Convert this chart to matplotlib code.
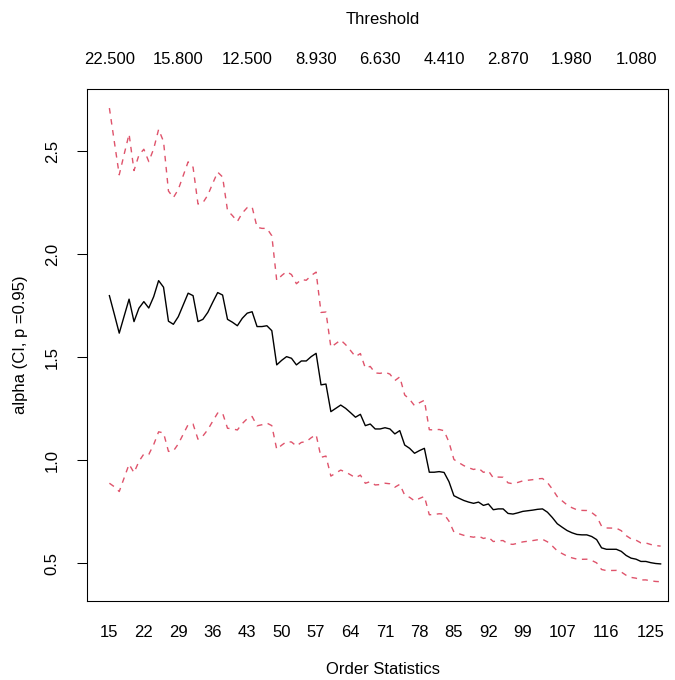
# Hill plot: alpha estimate against order statistics, with 95% CI bands

import numpy as np
import matplotlib.pyplot as plt

plt.rcParams['font.family'] = ['Liberation Sans', 'DejaVu Sans']
plt.rcParams['font.size'] = 12

# order statistics k = 15 .. 127 and the alpha estimate
order_stats = np.arange(15, 128)
alpha_hat = [
    1.799, 1.709, 1.617, 1.700, 1.782, 1.673, 1.738, 1.770, 1.739, 1.794,  # 15-24
    1.872, 1.840, 1.675, 1.660, 1.697, 1.754, 1.811, 1.799, 1.673, 1.684,  # 25-34
    1.718, 1.767, 1.814, 1.802, 1.684, 1.670, 1.653, 1.689, 1.714, 1.721,  # 35-44
    1.649, 1.649, 1.653, 1.629, 1.463, 1.485, 1.503, 1.495, 1.463, 1.482,  # 45-54
    1.482, 1.503, 1.519, 1.366, 1.370, 1.236, 1.252, 1.268, 1.252, 1.231,  # 55-64
    1.209, 1.223, 1.168, 1.176, 1.152, 1.152, 1.158, 1.152, 1.128, 1.144,  # 65-74
    1.074, 1.058, 1.034, 1.047, 1.058, 0.942, 0.942, 0.945, 0.941, 0.896,  # 75-84
    0.828, 0.816, 0.805, 0.797, 0.791, 0.797, 0.781, 0.788, 0.760, 0.764,  # 85-94
    0.764, 0.742, 0.739, 0.745, 0.752, 0.755, 0.758, 0.762, 0.764, 0.748,  # 95-104
    0.722, 0.692, 0.675, 0.659, 0.648, 0.640, 0.638, 0.638, 0.630, 0.615,  # 105-114
    0.575, 0.568, 0.568, 0.568, 0.558, 0.538, 0.525, 0.520, 0.509, 0.509,  # 115-124
    0.503, 0.499, 0.497,                                                   # 125-127
]
ci_level = 0.95

# axis labels (R drops the ones that would overlap)
bottom_ticks = [15, 22, 29, 36, 43, 50, 57, 64, 71, 78, 85, 92, 99, 107, 116, 125]
top_ticks = [15, 29, 43, 57, 70, 83, 96, 109, 122]
top_labels = ['22.500', '15.800', '12.500', '8.930', '6.630',
              '4.410', '2.870', '1.980', '1.080']

alpha_hat = np.array(alpha_hat)
z = 1.959964  # qnorm(0.975)
se = alpha_hat / np.sqrt(order_stats)
upper = alpha_hat + z * se
lower = alpha_hat - z * se

fig = plt.figure(figsize=(6.75, 6.8), dpi=100)
ax = fig.add_axes([87 / 675, 79 / 680, 581 / 675, 512 / 680])

ax.plot(order_stats, alpha_hat, color='black', lw=1.0)
ax.plot(order_stats, upper, color='#DF536B', lw=1.0, dashes=(4, 4))
ax.plot(order_stats, lower, color='#DF536B', lw=1.0, dashes=(4, 4))

ax.set_xlim(10.45, 128.5)
ax.set_ylim(0.317, 2.802)

ax.set_yticks([0.5, 1.0, 1.5, 2.0, 2.5])
ax.set_yticklabels(['0.5', '1.0', '1.5', '2.0', '2.5'])
ax.tick_params(axis='y', length=7.2, width=0.75, pad=12.5, labelrotation=90)
for lab in ax.get_yticklabels():
    lab.set_va('center')

ax.set_xticks(bottom_ticks)
ax.set_xticklabels([str(t) for t in bottom_ticks])
ax.tick_params(axis='x', length=0, pad=17)

for s in ax.spines.values():
    s.set_linewidth(0.75)

ax.set_xlabel('Order Statistics', va='center')
ax.xaxis.set_label_coords(0.5095, -0.1335)
ax.set_ylabel('alpha (CI, p =0.95)', va='center')
ax.yaxis.set_label_coords(-0.1153, 0.5)

# threshold axis on top
ax2 = ax.twiny()
ax2.set_xlim(ax.get_xlim())
ax2.set_xticks(top_ticks)
ax2.set_xticklabels(top_labels)
ax2.tick_params(axis='x', length=0, pad=15.5)
for s in ax2.spines.values():
    s.set_linewidth(0.75)
ax2.set_xlabel('Threshold', va='center')
ax2.xaxis.set_label_coords(0.5095, 1.136)

plt.savefig('out.png', dpi=100)
